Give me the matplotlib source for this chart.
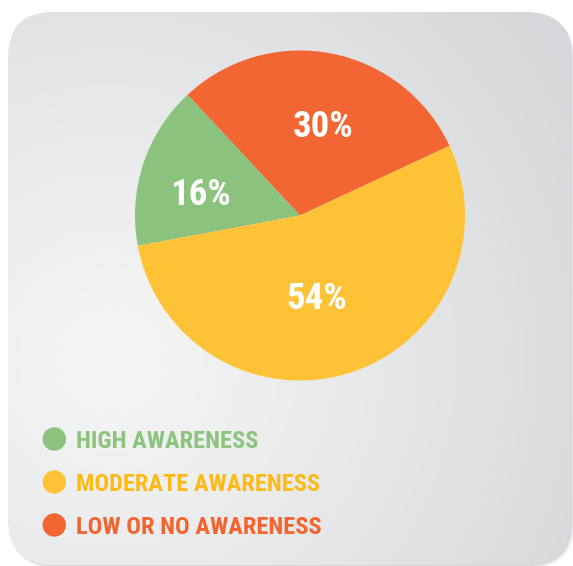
import numpy as np
import matplotlib.pyplot as plt
from matplotlib import font_manager
from matplotlib.patches import FancyBboxPatch, Circle

labels = ["LOW OR NO AWARENESS", "HIGH AWARENESS", "MODERATE AWARENESS"]
values = [30, 16, 54]
colors = ["#F26633", "#8BC37E", "#FDC236"]
text_colors = ["#F26530", "#8CC47E", "#FDBA17"]
legend_order = [1, 2, 0]

# pick a narrow bold face if one is installed
names = set(f.name for f in font_manager.fontManager.ttflist)
font = "DejaVu Sans"
narrow = False
for cand in ["Liberation Sans Narrow", "Roboto Condensed", "Open Sans Condensed", "Noto Sans Condensed"]:
    if cand in names:
        font = cand
        narrow = True
        break
plt.rcParams['font.family'] = [font, 'DejaVu Sans']

W, H = 573, 566
fig = plt.figure(figsize=(W / 100, H / 100), dpi=100)
fig.patch.set_facecolor("white")

# background panel
bg = fig.add_axes([0, 0, 1, 1])
bg.set_xlim(0, W)
bg.set_ylim(H, 0)
bg.axis("off")

x0, y0, x1, y1, rad = 8, 12, 571, 565, 45
for k, a in zip(range(6, 0, -1), [0.03, 0.04, 0.05, 0.06, 0.08, 0.10]):
    sh = FancyBboxPatch((x0 + rad + k * 0.7, y0 + rad + k * 0.6), x1 - x0 - 2 * rad, y1 - y0 - 2 * rad,
                        boxstyle="round,pad=%d" % rad, fc="#7a7b7e", ec="none", alpha=a)
    bg.add_patch(sh)
panel = FancyBboxPatch((x0 + rad, y0 + rad), x1 - x0 - 2 * rad, y1 - y0 - 2 * rad,
                       boxstyle="round,pad=%d" % rad, fc="none", ec="none")
bg.add_patch(panel)

gx, gy = np.meshgrid(np.linspace(x0, x1, 300), np.linspace(y0, y1, 300))
d = np.sqrt((gx - 110) ** 2 + (gy - 360) ** 2) / 540
d = np.clip(d, 0, 1)
c_in = np.array([0.960, 0.962, 0.962])
c_out = np.array([0.840, 0.845, 0.855])
img = c_in + (c_out - c_in) * d[..., None] ** 1.1
im = bg.imshow(img, extent=(x0, x1, y1, y0), interpolation="bilinear", zorder=1)
im.set_clip_path(panel)

# pie
cx, cy, r = 300, 215.5, 165
ax = fig.add_axes([(cx - r) / W, (H - cy - r) / H, 2 * r / W, 2 * r / H])
wedges, _ = ax.pie(values, colors=colors, startangle=25, counterclock=True,
                   wedgeprops=dict(linewidth=0))
ax.set_xlim(-1, 1)
ax.set_ylim(-1, 1)
ax.set_aspect("equal")
ax.axis("off")

pct_size = 26.5 if narrow else 21
leg_size = 17.6 if narrow else 15

dists = [0.57, 0.62, 0.5]
shift = [-3, 5, -6]
for w, v, dd, s in zip(wedges, values, dists, shift):
    ang = np.deg2rad((w.theta1 + w.theta2) / 2 + s)
    ax.text(dd * np.cos(ang), dd * np.sin(ang) - 0.015, "%d%%" % v, color="white",
            fontsize=pct_size, fontweight="bold", fontstretch="condensed",
            ha="center", va="center")

# legend
for n, i in enumerate(legend_order):
    yy = 439 + n * 43
    bg.add_patch(Circle((54.3, yy), 11.7, fc=colors[i], ec="none", zorder=3))
    bg.text(75.5, yy + 9.3 - n * 0.3, labels[i], color=text_colors[i], fontsize=leg_size,
            fontweight="bold", fontstretch="condensed", ha="left", va="baseline", zorder=3)

fig.savefig("out.png", dpi=100)
